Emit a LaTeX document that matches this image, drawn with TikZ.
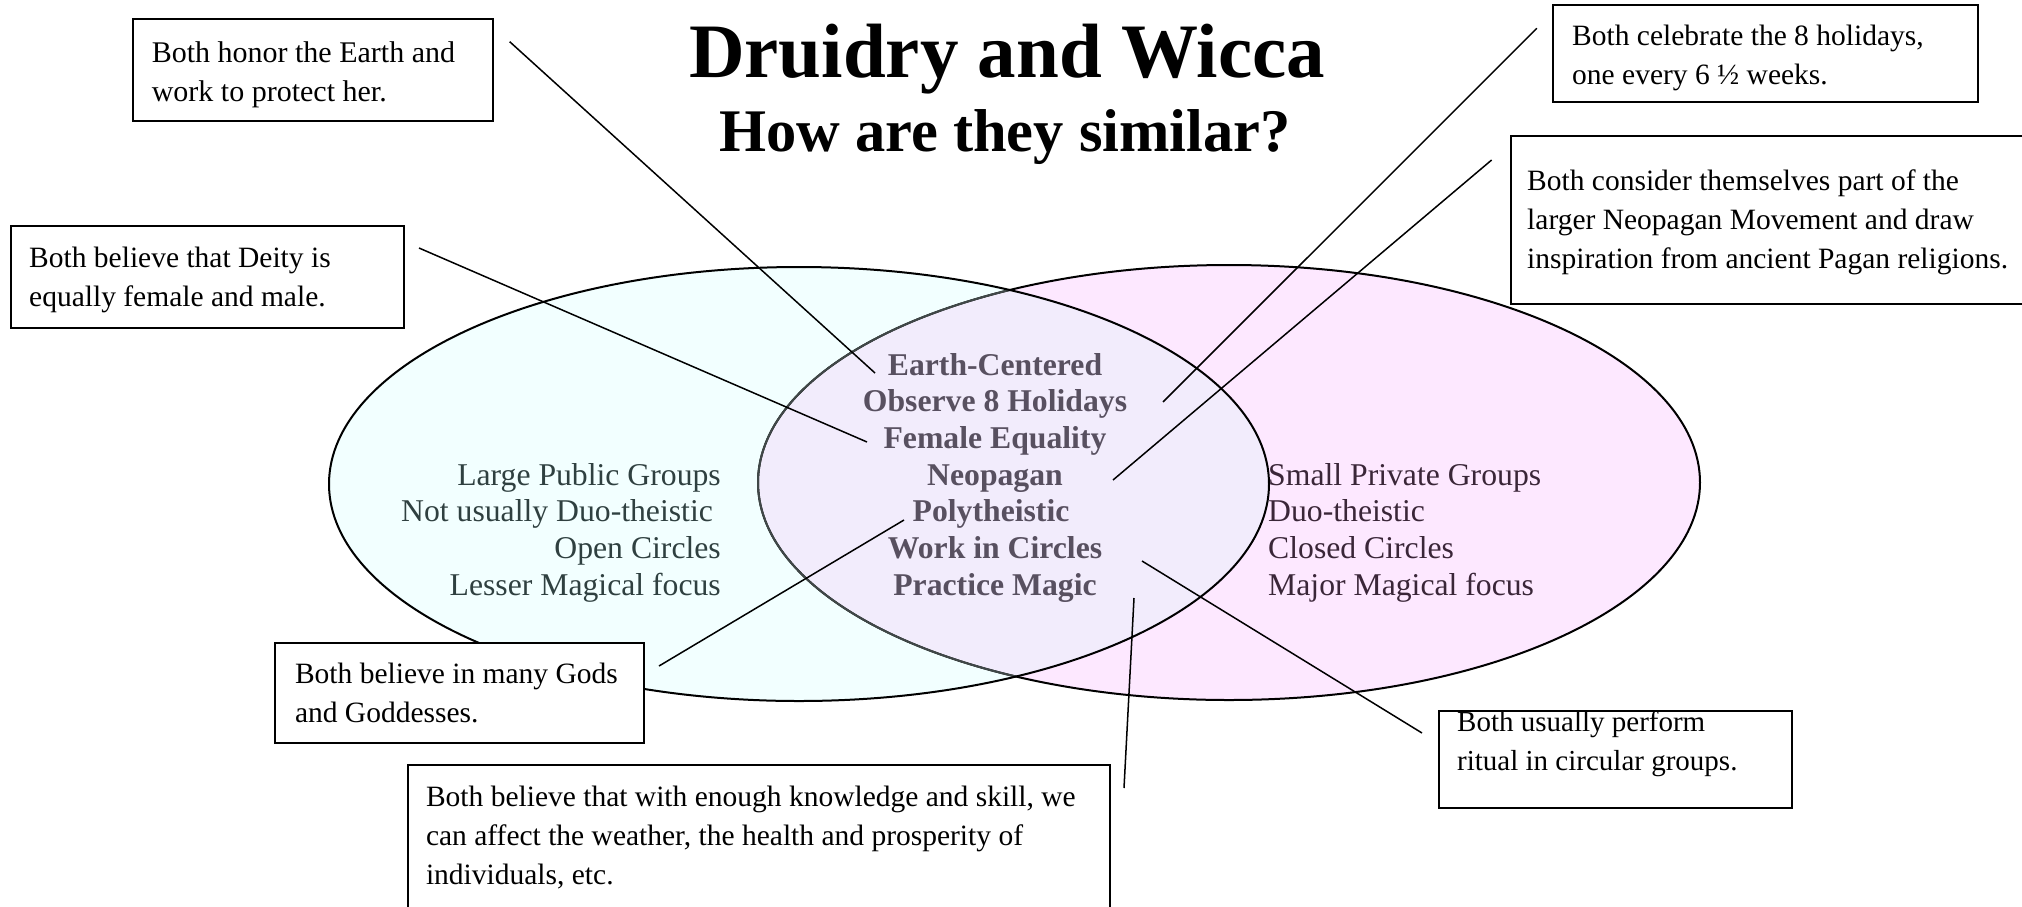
\documentclass[tikz,border=0pt]{standalone}
\usepackage{fontspec}
\setmainfont{Liberation Serif}
\newcommand\linesL[1]{\vtop{\halign{##\hfil\cr#1\crcr}}}
\newcommand\linesR[1]{\vtop{\halign{\hfil##\cr#1\crcr}}}
\newcommand\linesC[1]{\vtop{\halign{\hfil##\hfil\cr#1\crcr}}}
\definecolor{lfill}{RGB}{242,255,255}
\definecolor{rfill}{RGB}{253,232,255}
\definecolor{mfill}{RGB}{242,236,252}
\definecolor{ltext}{RGB}{47,64,64}
\definecolor{rtext}{RGB}{58,38,56}
\definecolor{mtext}{RGB}{88,80,96}
\definecolor{rinner}{RGB}{64,72,72}
\begin{document}
\begin{tikzpicture}[x=1pt,y=-1pt,
  box/.style={draw=black,fill=white,line width=2pt,inner sep=0pt,anchor=north west},
  conn/.style={draw=black,line width=1.5pt},
  callout/.style={inner sep=0pt,anchor=base west,font=\fontsize{29.5}{39}\selectfont},
  cat/.style={inner sep=0pt,font=\fontsize{31.7}{36.67}\selectfont},
  ellline/.style={line width=2pt}]
\useasboundingbox (0,0) rectangle (2022,906);

% Venn ellipses
\fill[rfill] (1229,482.5) ellipse [x radius=471pt, y radius=217.5pt];
\fill[lfill] (799,484) ellipse [x radius=470pt, y radius=217pt];
\begin{scope}
  \clip (1229,482.5) ellipse [x radius=471pt, y radius=217.5pt];
  \fill[mfill] (799,484) ellipse [x radius=470pt, y radius=217pt];
\end{scope}
\draw[ellline,black] (1229,482.5) ellipse [x radius=471pt, y radius=217.5pt];
\begin{scope}
  \clip (799,484) ellipse [x radius=470pt, y radius=217pt];
  \draw[ellline,rinner] (1229,482.5) ellipse [x radius=471pt, y radius=217.5pt];
\end{scope}
\draw[ellline,black] (799,484) ellipse [x radius=470pt, y radius=217pt];

% Title
\node[inner sep=0pt,anchor=base,font=\fontsize{77}{80}\selectfont\bfseries] (title) at (1007,77) {Druidry and Wicca};
\node[inner sep=0pt,anchor=base,font=\fontsize{60.5}{62}\selectfont\bfseries] (subtitle) at (1005,151.7) {How are they similar?};

% Category texts
\node[cat,anchor=base east,text=ltext] (left) at (721,485)
  {\linesR{Large Public Groups\cr Not usually Duo-theistic\ \cr Open Circles\cr Lesser Magical focus}};
\node[cat,anchor=base west,text=rtext] (right) at (1268,485)
  {\linesL{Small Private Groups\cr Duo-theistic\cr Closed Circles\cr Major Magical focus}};
\node[cat,anchor=base,text=mtext,font=\fontsize{31.7}{36.67}\selectfont\bfseries] (mid) at (995,375)
  {\linesC{Earth-Centered\cr Observe 8 Holidays\cr Female Equality\cr Neopagan\cr Polytheistic\ \cr Work in Circles\cr Practice Magic}};

% Callout boxes
\node[box,minimum width=359.5pt,minimum height=102pt] (b1) at (132,18) {};
\node[box,minimum width=393pt,minimum height=102pt] (b2) at (10,225) {};
\node[box,minimum width=425.5pt,minimum height=97pt] (b3) at (1551.5,4) {};
\node[box,minimum width=540pt,minimum height=168pt] (b4) at (1509.5,135) {};
\node[box,minimum width=369pt,minimum height=100pt] (b5) at (274,642) {};
\node[box,minimum width=353pt,minimum height=97pt] (b6) at (1438,710) {};
\node[box,minimum width=702.5pt,minimum height=170pt] (b7) at (406.5,764) {};

\node[callout,font=\fontsize{30}{39}\selectfont] (t1) at (151.6,62) {\linesL{Both honor the Earth and\cr work to protect her.}};
\node[callout] (t2) at (29,267) {\linesL{Both believe that Deity is\cr equally female and male.}};
\node[callout] (t3) at (1572,45) {\linesL{Both celebrate the 8 holidays,\cr one every 6 ½ weeks.}};
\node[callout] (t4) at (1527,190) {\linesL{Both consider themselves part of the\cr larger Neopagan Movement and draw\cr inspiration from ancient Pagan religions.}};
\node[callout] (t5) at (294.8,683) {\linesL{Both believe in many Gods\cr and Goddesses.}};
\node[callout,font=\fontsize{29}{39}\selectfont] (t6) at (1457,731) {\linesL{Both usually perform\cr ritual in circular groups.}};
\node[callout] (t7) at (425.8,806) {\linesL{Both believe that with enough knowledge and skill, we\cr can affect the weather, the health and prosperity of\cr individuals, etc.}};

% Connector end points
\coordinate (c1a) at (509.7,41.7);  \coordinate (c1b) at (875,373);
\coordinate (c2a) at (419,248);     \coordinate (c2b) at (867,442);
\coordinate (c3a) at (1536.8,28.3); \coordinate (c3b) at (1163,402);
\coordinate (c4a) at (1491.6,160);  \coordinate (c4b) at (1113,480);
\coordinate (c5a) at (904,520);     \coordinate (c5b) at (659,666);
\coordinate (c6a) at (1142,561);    \coordinate (c6b) at (1422,733);
\coordinate (c7a) at (1134,598);    \coordinate (c7b) at (1124,788);

\draw[conn] (c1a) -- (c1b);
\draw[conn] (c2a) -- (c2b);
\draw[conn] (c3a) -- (c3b);
\draw[conn] (c4a) -- (c4b);
\draw[conn] (c5a) -- (c5b);
\draw[conn] (c6a) -- (c6b);
\draw[conn] (c7a) -- (c7b);
\end{tikzpicture}
\end{document}
